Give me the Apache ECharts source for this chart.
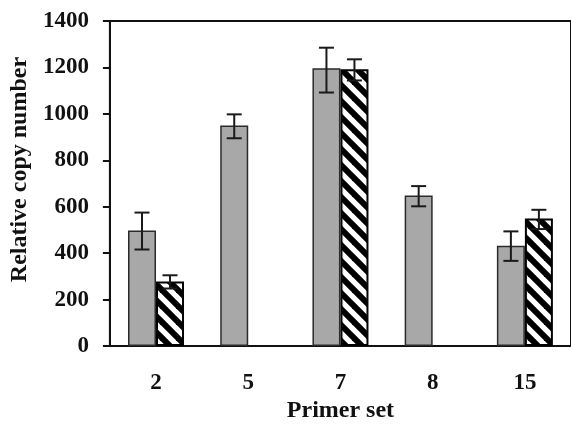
<!DOCTYPE html>
<html>
<head>
<meta charset="utf-8">
<script src="https://cdn.jsdelivr.net/npm/echarts@6/dist/echarts.min.js"></script>
<style>
  html, body { margin: 0; padding: 0; background: #fff; }
  #chart { width: 571px; height: 428px; }
</style>
</head>
<body>
<div id="chart"></div>
<script>
const categories = ['2', '5', '7', '8', '15'];
const grayValues = [498, 950, 1196, 649, 432];
const grayLow = [416, 895, 1092, 602, 367];
const grayHigh = [575, 998, 1285, 689, 494];
const hatchValues = [278, null, 1192, null, 549];
const hatchLow = [248, null, 1144, null, 504];
const hatchHigh = [305, null, 1235, null, 587];
const yTicks = [0, 200, 400, 600, 800, 1000, 1200, 1400];

const serif = 'Liberation Serif';
const barW = 28;

// diagonal "\" hatch tile
function hatchTile() {
  const P = 16;
  const c = document.createElement('canvas');
  c.width = P; c.height = P;
  const ctx = c.getContext('2d');
  ctx.fillStyle = '#fff';
  ctx.fillRect(0, 0, P, P);
  ctx.strokeStyle = '#000';
  ctx.lineWidth = 6;
  [-P, 0, P].forEach(off => {
    ctx.beginPath();
    ctx.moveTo(off - 3, -3);
    ctx.lineTo(off + P + 3, P + 3);
    ctx.stroke();
  });
  return c;
}

function errData(low, high) {
  return low.map((l, i) => (l == null ? null : [i, l, high[i]]));
}

function errSeries(low, high, offset) {
  return {
    type: 'custom',
    silent: true,
    z: 5,
    data: errData(low, high).filter(d => d),
    renderItem: (params, api) => {
      const cx = api.coord([api.value(0), 0])[0] + offset;
      const yl = api.coord([api.value(0), api.value(1)])[1];
      const yh = api.coord([api.value(0), api.value(2)])[1];
      const cap = 7.5;
      const st = { stroke: '#1a1a1a', lineWidth: 2 };
      return {
        type: 'group',
        children: [
          { type: 'line', shape: { x1: cx, y1: yl, x2: cx, y2: yh }, style: st },
          { type: 'line', shape: { x1: cx - cap, y1: yh, x2: cx + cap, y2: yh }, style: st },
          { type: 'line', shape: { x1: cx - cap, y1: yl, x2: cx + cap, y2: yl }, style: st }
        ]
      };
    }
  };
}

const chart = echarts.init(document.getElementById('chart'));
const option = {
  animation: false,
  backgroundColor: '#fff',
  grid: {
    left: 104, top: 21, width: 477, height: 341,
    show: true, borderColor: '#111', borderWidth: 2, backgroundColor: 'transparent'
  },
  xAxis: {
    type: 'category',
    data: categories,
    name: 'Primer set',
    nameLocation: 'middle',
    nameGap: 45,
    nameTextStyle: { fontFamily: serif, fontWeight: 'bold', fontSize: 24, color: '#111' },
    axisLine: { lineStyle: { color: '#111', width: 2 } },
    axisTick: { length: 7, lineStyle: { color: '#111', width: 2 } },
    axisLabel: { margin: 25, fontFamily: serif, fontWeight: 'bold', fontSize: 23, color: '#111' }
  },
  yAxis: {
    type: 'value',
    min: yTicks[0],
    max: yTicks[yTicks.length - 1],
    interval: 200,
    name: 'Relative copy number',
    nameLocation: 'middle',
    nameGap: 72,
    nameTextStyle: { fontFamily: serif, fontWeight: 'bold', fontSize: 24, color: '#111', padding: [0, 0, 0, 28] },
    axisLine: { show: true, lineStyle: { color: '#111', width: 2 } },
    axisTick: { show: true, length: 7, lineStyle: { color: '#111', width: 2 } },
    axisLabel: {
      margin: 21, fontFamily: serif, fontWeight: 'bold', fontSize: 23, color: '#111',
      formatter: v => String(v)
    },
    splitLine: { show: false }
  },
  series: [
    {
      type: 'bar',
      data: grayValues,
      barWidth: barW,
      barGap: '0%',
      itemStyle: { color: '#a8a8a8', borderColor: '#2a2a2a', borderWidth: 1.5 }
    },
    {
      type: 'bar',
      data: hatchValues,
      barWidth: barW,
      barGap: '0%',
      itemStyle: { color: { image: hatchTile(), repeat: 'repeat' }, borderColor: '#000', borderWidth: 2 }
    },
    errSeries(grayLow, grayHigh, -barW / 2),
    errSeries(hatchLow, hatchHigh, barW / 2)
  ]
};
chart.setOption(option);
</script>
</body>
</html>
